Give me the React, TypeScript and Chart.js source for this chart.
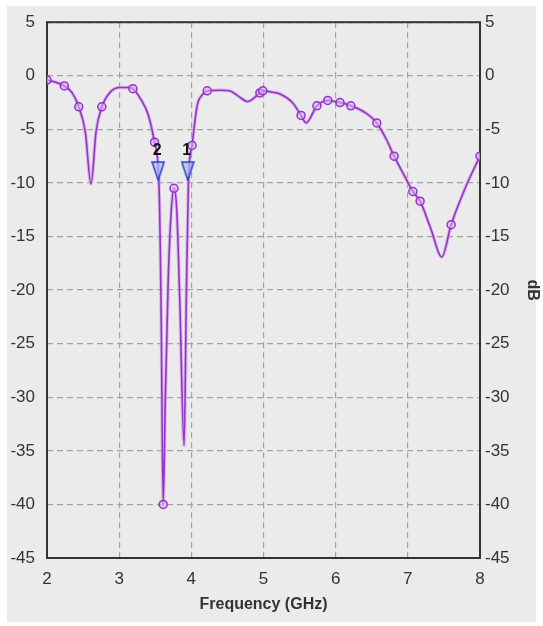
import React, { useEffect, useRef } from "react";
import { Chart, registerables } from "chart.js";

Chart.register(...registerables);

// ---- data ----
const frequencyGHz = [
  2.0, 2.12, 2.24, 2.35, 2.44, 2.53, 2.61, 2.68, 2.76, 2.88, 3.01, 3.12, 3.19, 3.3, 3.4, 3.49,
  3.55, 3.58, 3.61, 3.64, 3.68, 3.72, 3.76, 3.8, 3.84, 3.9, 3.93, 3.96, 4.01, 4.08, 4.15, 4.22,
  4.4, 4.53, 4.65, 4.78, 4.95, 4.99, 5.1, 5.23, 5.4, 5.52, 5.59, 5.74, 5.89, 6.06, 6.21, 6.4,
  6.57, 6.7, 6.81, 6.95, 7.07, 7.17, 7.32, 7.47, 7.6, 7.8, 8.0,
];
const s11Db = [
  -0.4, -0.6, -0.95, -1.6, -2.9, -5.2, -10.1, -5.2, -2.9, -1.5, -1.1, -1.1, -1.2, -2.2, -3.6, -6.2,
  -9.8, -21, -40, -30, -19, -12.8, -10.5, -12.8, -21, -34.5, -21, -9.8, -6.5, -2.8, -1.8, -1.4,
  -1.35, -1.4, -1.9, -2.4, -1.6, -1.4, -1.5, -1.7, -2.5, -3.7, -4.4, -2.8, -2.3, -2.5, -2.8, -3.4,
  -4.4, -5.9, -7.5, -9.3, -10.8, -11.7, -14.3, -16.9, -13.9, -10.4, -7.5,
];
const circleMarkerFreqs = [
  2.0, 2.24, 2.44, 2.76, 3.19, 3.49, 3.61, 3.76, 4.01, 4.22, 4.95, 4.99, 5.52, 5.74, 5.89, 6.06,
  6.21, 6.57, 6.81, 7.07, 7.17, 7.6, 8.0,
];
const triMarkerFreqs = [3.54, 3.95];
const triMarkerDb = [-8.9, -8.9];
const triMarkerLabels = ["2", "1"];
const xTicks = [2, 3, 4, 5, 6, 7, 8];
const yTicks = [5, 0, -5, -10, -15, -20, -25, -30, -35, -40, -45];

const FONT = "'Liberation Sans', Arial, sans-serif";

function makeTriangle(): HTMLCanvasElement {
  const c = document.createElement("canvas");
  c.width = 14;
  c.height = 20;
  const g = c.getContext("2d")!;
  g.beginPath();
  g.moveTo(1, 1);
  g.lineTo(13, 1);
  g.lineTo(7, 19);
  g.closePath();
  g.fillStyle = "rgba(175,190,240,0.7)";
  g.fill();
  g.strokeStyle = "#2f49c9";
  g.lineWidth = 1.6;
  g.stroke();
  return c;
}

export default function App() {
  const ref = useRef<HTMLCanvasElement | null>(null);

  useEffect(() => {
    if (!ref.current) return;
    const pts = frequencyGHz.map((f, i) => ({ x: f, y: s11Db[i] }));
    const tri = triMarkerFreqs.map((f, i) => ({ x: f, y: triMarkerDb[i] }));
    const triImg = makeTriangle();

    const bgPlugin = {
      id: "bg",
      beforeDraw(chart: any) {
        const { ctx, width, height } = chart;
        ctx.save();
        ctx.fillStyle = "#ffffff";
        ctx.fillRect(0, 0, width, height);
        ctx.fillStyle = "#ebebeb";
        ctx.fillRect(7, 6, 529, 616);
        ctx.restore();
      },
      beforeDatasetsDraw(chart: any) {
        const { ctx, chartArea: a } = chart;
        ctx.save();
        ctx.strokeStyle = "#333333";
        ctx.lineWidth = 2;
        ctx.strokeRect(a.left, a.top, a.right - a.left, a.bottom - a.top);
        ctx.restore();
      },
      afterDatasetsDraw(chart: any) {
        const meta = chart.getDatasetMeta(3);
        const { ctx } = chart;
        ctx.save();
        ctx.fillStyle = "#111111";
        ctx.font = `bold 16px ${FONT}`;
        ctx.textAlign = "center";
        ctx.textBaseline = "middle";
        meta.data.forEach((el: any, i: number) => {
          ctx.fillText(triMarkerLabels[i], el.x - 1, el.y - 21);
        });
        ctx.restore();
      },
    };

    const tickFont = { family: FONT, size: 17 };

    const chart = new Chart(ref.current, {
      type: "line",
      data: {
        datasets: [
          {
            data: pts,
            order: 4,
            borderColor: "rgba(200,150,232,0.6)",
            borderWidth: 3.5,
            pointRadius: 0,
            cubicInterpolationMode: "monotone",
          },
          {
            data: pts,
            order: 3,
            borderColor: "#9632c8",
            borderWidth: 1.6,
            pointRadius: 0,
            cubicInterpolationMode: "monotone",
          },
          {
            data: pts,
            order: 2,
            showLine: false,
            pointStyle: "circle",
            pointRadius: (c: any) => (circleMarkerFreqs.includes(frequencyGHz[c.dataIndex]) ? 4 : 0),
            pointBorderColor: "#9632c8",
            pointBackgroundColor: "rgba(215,180,240,0.6)",
            pointBorderWidth: 1.5,
          },
          {
            data: tri,
            order: 1,
            showLine: false,
            pointStyle: triImg as any,
            pointRadius: 8,
          },
        ],
      } as any,
      options: {
        animation: false,
        responsive: false,
        devicePixelRatio: 1,
        layout: { padding: { top: 18, left: 0, right: 0, bottom: 0 } },
        plugins: { legend: { display: false }, tooltip: { enabled: false } },
        scales: {
          x: {
            type: "linear",
            min: 2,
            max: 8,
            afterBuildTicks: (s: any) => {
              s.ticks = xTicks.map((v) => ({ value: v }));
            },
            afterFit: (s: any) => {
              s.height = 68;
            },
            ticks: { font: tickFont, color: "#333333", padding: 11, maxRotation: 0 },
            grid: { color: "#a3a3a3", lineWidth: 1.2, drawTicks: false },
            border: { display: false, dash: [6, 4] },
            title: {
              display: true,
              text: "Frequency (GHz)",
              color: "#333333",
              font: { family: FONT, size: 16, weight: "bold" },
              padding: { top: 0, bottom: 12 },
            },
          },
          y: {
            type: "linear",
            position: "left",
            min: -45,
            max: 5,
            afterBuildTicks: (s: any) => {
              s.ticks = yTicks.map((v) => ({ value: v }));
            },
            afterFit: (s: any) => {
              s.width = 47;
            },
            ticks: { font: tickFont, color: "#333333", padding: 12 },
            grid: { color: "#a3a3a3", lineWidth: 1.2, drawTicks: false },
            border: { display: false, dash: [6, 4] },
          },
          y2: {
            type: "linear",
            position: "right",
            min: -45,
            max: 5,
            afterBuildTicks: (s: any) => {
              s.ticks = yTicks.map((v) => ({ value: v }));
            },
            afterFit: (s: any) => {
              s.width = 63;
            },
            ticks: { font: tickFont, color: "#333333", padding: 5 },
            grid: { drawOnChartArea: false, drawTicks: false },
            border: { display: false },
            title: {
              display: true,
              text: "dB",
              color: "#333333",
              font: { family: FONT, size: 16, weight: "bold" },
              padding: { top: 1, bottom: 0 },
            },
          },
        },
      } as any,
      plugins: [bgPlugin],
    });
    return () => chart.destroy();
  }, []);

  return (
    <div style={{ position: "fixed", left: 0, top: 0, width: 543, height: 626 }}>
      <canvas ref={ref} width={543} height={626} style={{ display: "block", width: 543, height: 626 }} />
    </div>
  );
}
